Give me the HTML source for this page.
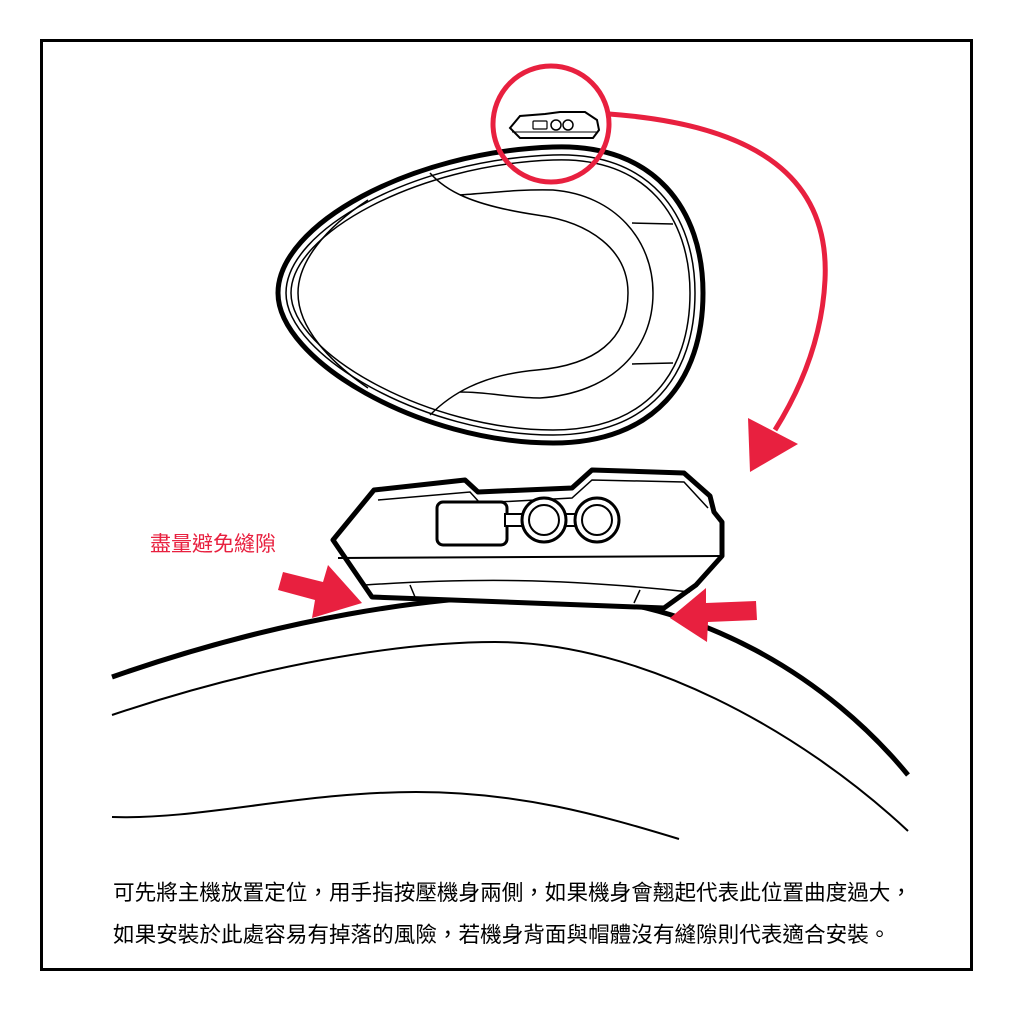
<!DOCTYPE html>
<html><head><meta charset="utf-8"><style>
html,body{margin:0;padding:0;background:#fff;}
svg{display:block;}
text{font-family:"Liberation Sans","Noto Sans CJK TC",sans-serif;}
</style></head><body>
<svg width="1024" height="1024" viewBox="0 0 1024 1024" xmlns="http://www.w3.org/2000/svg">
<rect x="0" y="0" width="1024" height="1024" fill="#fff"/>
<rect x="41.5" y="40.5" width="930" height="929" fill="none" stroke="#000" stroke-width="3"/>

<!-- helmet top view -->
<path d="M278,293 C278,225 410,152 553,147 C655,143 703,210 703,293 C703,380 655,443 553,443 C420,443 278,360 278,293 Z" fill="#fff" stroke="#000" stroke-width="5"/>
<path d="M286,293 C286,230 413,160 553,155 C650,151 695,215 695,293 C695,375 650,435 553,435 C425,435 286,356 286,293 Z" fill="none" stroke="#000" stroke-width="1.5"/>
<path d="M291,293 C291,234 416,165 553,160 C647,156 690,218 690,293 C690,372 647,430 553,430 C428,430 291,353 291,293 Z" fill="none" stroke="#000" stroke-width="1.5"/>
<path d="M368,200 C325,228 298,262 298,293 C298,328 330,362 368,388" fill="none" stroke="#000" stroke-width="1.5"/>
<path d="M430,173 C445,190 470,205 537,215 C590,222 628,250 628,293 C628,340 595,365 537,370 C480,375 450,395 430,415" fill="none" stroke="#000" stroke-width="1.5"/>
<path d="M460,195 C490,193 520,189 553,190 C615,195 653,240 653,293 C653,350 612,393 540,398 C510,398 490,392 460,392" fill="none" stroke="#000" stroke-width="1.5"/>
<line x1="632" y1="223" x2="673" y2="224" stroke="#000" stroke-width="1.5"/>
<line x1="632" y1="364" x2="673" y2="363" stroke="#000" stroke-width="1.5"/>

<!-- small device in circle -->
<path d="M510,128 L520,116 L545,114 L560,112 L585,112 L597,120 L599,130 L593,138 L520,138 Z" fill="#fff" stroke="#000" stroke-width="2"/>
<line x1="512" y1="132" x2="598" y2="132" stroke="#000" stroke-width="1"/>
<rect x="533" y="121" width="14" height="8" rx="1" fill="none" stroke="#000" stroke-width="1.2"/>
<circle cx="556" cy="125" r="5" fill="none" stroke="#000" stroke-width="1.5"/>
<circle cx="568" cy="125" r="5" fill="none" stroke="#000" stroke-width="1.5"/>

<!-- red circle and connector -->
<circle cx="551" cy="124" r="58" fill="none" stroke="#e8203f" stroke-width="5"/>
<path d="M609,114 C760,125 830,180 825,280 C822,340 800,390 775,430" fill="none" stroke="#e8203f" stroke-width="5"/>
<polygon points="748,418 798,444 750,472" fill="#e8203f"/>

<!-- helmet curves bottom -->
<path d="M112,677 C280,618 430,596 540,595 C700,596 830,680 908,775" fill="none" stroke="#000" stroke-width="5"/>
<path d="M112,715 C260,665 400,642 495,642 C640,642 800,730 908,831" fill="none" stroke="#000" stroke-width="2"/>
<path d="M112,817 C200,820 300,792 416,792 C520,792 600,815 679,839" fill="none" stroke="#000" stroke-width="2"/>

<!-- main device -->
<path d="M333,540 L374,490 L465,480 L478,492 L572,488 L592,470 L684,473 L710,496 L714,512 L722,522 L722,556 L696,585 L664,608 L372,597 Z" fill="#fff" stroke="#000" stroke-width="5" stroke-linejoin="round"/>
<path d="M378,500 L470,492 L480,503 L572,498 L592,480 L684,482 L708,508" fill="none" stroke="#000" stroke-width="1.5"/>
<line x1="338" y1="558" x2="720" y2="556" stroke="#000" stroke-width="2"/>
<path d="M365,585 C470,578 560,578 690,592" fill="none" stroke="#000" stroke-width="1.5"/>
<line x1="410" y1="585" x2="415" y2="597" stroke="#000" stroke-width="1.5"/>
<line x1="640" y1="590" x2="634" y2="603" stroke="#000" stroke-width="1.5"/>
<rect x="437" y="502" width="70" height="43" rx="6" fill="#fff" stroke="#000" stroke-width="3"/>
<rect x="505" y="514" width="20" height="12" fill="#fff" stroke="#000" stroke-width="2"/>
<rect x="563" y="514" width="17" height="12" fill="#fff" stroke="#000" stroke-width="2"/>
<circle cx="544" cy="520" r="22" fill="#fff" stroke="#000" stroke-width="3"/>
<circle cx="544" cy="520" r="15" fill="#fff" stroke="#000" stroke-width="2"/>
<circle cx="597" cy="520" r="22" fill="#fff" stroke="#000" stroke-width="3"/>
<circle cx="597" cy="520" r="15" fill="#fff" stroke="#000" stroke-width="2"/>

<!-- red arrows -->
<polygon points="283,572 323,582 328,565 362,603 312,618 315,600 278,590" fill="#e8203f"/>
<polygon points="670,618 706,588 706,603 756,601 757,620 708,622 707,642" fill="#e8203f"/>

<text x="150" y="551" font-size="21" fill="#e8203f">盡量避免縫隙</text>
<text x="113" y="900" font-size="21.6" fill="#000">可先將主機放置定位，用手指按壓機身兩側，如果機身會翹起代表此位置曲度過大，</text>
<text x="113" y="942" font-size="21.6" fill="#000">如果安裝於此處容易有掉落的風險，若機身背面與帽體沒有縫隙則代表適合安裝。</text>
</svg>
</body></html>
